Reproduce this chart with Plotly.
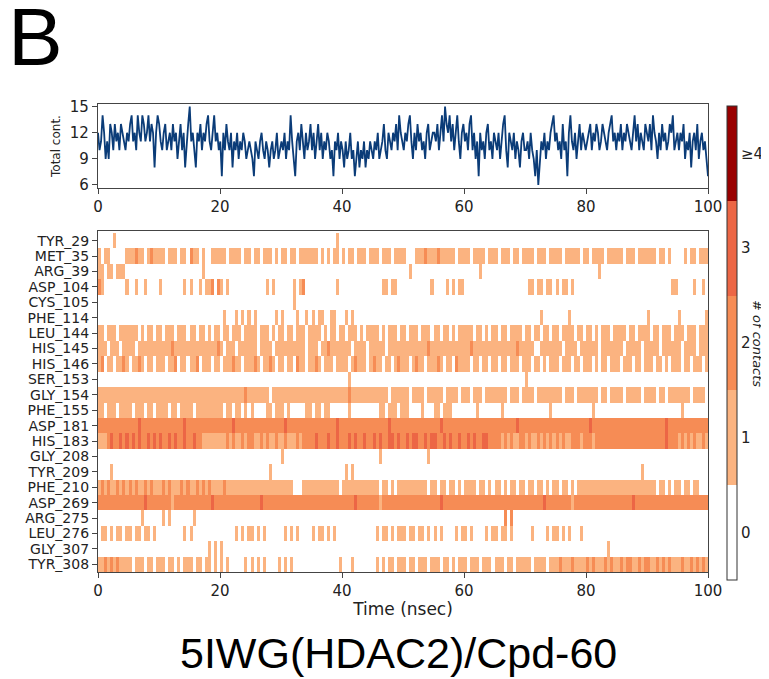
import numpy as np
import plotly.graph_objects as go

# ---- data ----
# total number of contacts, one value every 0.25 ns (0-100 ns)
total_contacts = [
    12, 10, 11, 14, 12, 9, 11, 9, 13, 12, 10, 13, 11, 12, 10, 13, 12, 11, 10, 12,
    11, 13, 14, 11, 12, 10, 14, 12, 11, 14, 13, 11, 12, 14, 11, 13, 12, 8, 12, 14,
    13, 11, 10, 12, 13, 10, 11, 12, 10, 13, 11, 12, 9, 11, 13, 10, 12, 8, 11, 13,
    15, 11, 12, 10, 8, 12, 11, 13, 10, 12, 11, 13, 14, 11, 10, 12, 14, 11, 12, 10,
    11, 7, 12, 10, 13, 11, 10, 12, 8, 11, 10, 12, 9, 11, 10, 12, 11, 9, 10, 11,
    10, 9, 7, 11, 10, 9, 11, 12, 10, 9, 11, 10, 8, 10, 11, 9, 10, 12, 9, 10,
    11, 10, 12, 9, 11, 10, 14, 11, 9, 7, 11, 12, 10, 13, 11, 9, 12, 10, 11, 13,
    10, 12, 9, 11, 13, 10, 12, 9, 11, 10, 12, 11, 9, 10, 7, 11, 10, 12, 9, 11,
    10, 8, 11, 9, 10, 12, 9, 10, 7, 9, 11, 8, 10, 9, 11, 8, 10, 9, 11, 10,
    9, 11, 10, 12, 9, 10, 11, 13, 10, 9, 12, 11, 10, 12, 11, 13, 10, 14, 12, 11,
    10, 12, 11, 13, 14, 11, 9, 12, 10, 13, 11, 12, 10, 11, 9, 12, 13, 10, 11, 12,
    12, 11, 13, 10, 12, 14, 11, 15, 13, 12, 14, 11, 13, 10, 12, 14, 11, 9, 12, 13,
    11, 12, 10, 13, 14, 10, 12, 9, 11, 7, 12, 10, 11, 9, 12, 13, 10, 11, 9, 12,
    11, 10, 12, 9, 11, 13, 14, 10, 8, 12, 11, 10, 12, 9, 11, 10, 8, 11, 12, 10,
    10, 11, 9, 12, 10, 9, 7, 10, 6, 9, 11, 10, 12, 9, 11, 10, 12, 13, 14, 11,
    12, 10, 11, 9, 13, 10, 11, 7, 12, 14, 11, 10, 12, 9, 11, 13, 10, 12, 11, 10,
    11, 12, 13, 10, 12, 11, 13, 12, 10, 11, 13, 12, 11, 10, 12, 13, 14, 11, 12, 10,
    12, 11, 13, 10, 12, 11, 13, 12, 11, 10, 12, 14, 11, 13, 10, 12, 11, 10, 13, 12,
    11, 13, 10, 14, 12, 11, 9, 12, 10, 13, 11, 12, 10, 11, 13, 12, 14, 10, 11, 12,
    10, 12, 11, 13, 9, 11, 10, 12, 8, 11, 12, 10, 13, 9, 11, 12, 10, 11, 9, 7,
]

residues = ["TYR_29", "MET_35", "ARG_39", "ASP_104", "CYS_105", "PHE_114",
            "LEU_144", "HIS_145", "HIS_146", "SER_153", "GLY_154", "PHE_155",
            "ASP_181", "HIS_183", "GLY_208", "TYR_209", "PHE_210", "ASP_269",
            "ARG_275", "LEU_276", "GLY_307", "TYR_308"]

# contacts per residue, one digit per 0.5 ns (groups of 5 ns), 4 means >=4
contact_rows = [
    "0000010000 0000000000 0000000000 0000000000 0000000000 0000000000 0000000000 0000000010 0000000000 0000000000 0000000000 0000000000 0000000000 0000000000 0000000000 0000000000 0000000000 0000000000 0000000000 0000000000",
    "1011000001 1121101211 1101110110 2110100111 1101111011 0110111010 1101101111 1101010110 1011011101 1101110111 1000111211 1211111011 1101111011 1011101101 1110111011 1101111101 1011110111 1101110111 1110110100 0010110111",
    "1101101110 0000000000 0000000000 0000100000 0000000000 0000000000 0000000000 0000000000 0000000000 0000000000 0010000000 0000000000 0000010000 0000000000 0000000000 0000000000 0000100000 0000000000 0000000000 0000000000",
    "2100000001 0010010000 1000000010 1001011202 1010000000 0000010100 0000101200 0000000010 0000000000 0001101100 0000000001 0000101011 0000000000 0000000000 0110110110 1011010000 0000000000 0000000000 0000000011 0000010010",
    "0000000000 0000000000 0000000000 0000000000 0000000000 0000000000 0000100000 0000000000 0000000000 0000000000 0000000000 0000000000 0000000000 0000000000 0000000000 0000000000 0000000000 0000000000 0000000000 0000000000",
    "0000000000 0000000000 0000000000 0000000000 0100010101 0100000010 1000010010 1011001100 0101000000 0000000000 0000000000 0000000000 0000000000 0000000000 0000010000 0000100000 0000000000 0000000000 1000000000 1000000001",
    "1101110111 1110101101 1011101110 1101101011 0110111011 1101110101 1011011101 1110101101 1011101011 1101011101 1011101110 1101101011 1110110101 1011011110 1101101101 1011110110 1101011101 1110110111 1011011101 1101110111",
    "1110111011 1101111111 1111211111 1111111112 1011101111 1101111011 1111111101 1101121111 1110111101 1111011111 1111111121 1111111111 1121111111 1111111211 1110011111 1101111011 1111011111 1101111101 1111011111 1011110111",
    "1201101121 0112101101 1101120110 1120111011 0111211011 1210112101 1011021101 1210111011 1101211101 2110110121 1101211011 1210110211 1101101101 1011011101 1101101011 1011101101 1101011011 1011101101 1101101011 1011011101",
    "0000000000 0000000000 0000000000 0000000000 0000000000 0000000000 0000000000 0000000000 0010000000 0000000000 0000000000 0000000000 0000000000 0000000000 1000000000 0000000000 0000000000 0000000000 0000000000 0000000000",
    "1111111111 1111111111 1111111111 1111111111 1111111121 1111110111 1111111111 1111111111 1121111111 1111101111 1101111011 1110111101 1101110111 1111011101 1110111111 1101110111 1111011011 1101111101 1110110111 1111011110",
    "1101110111 1011101101 1110110111 1011111111 1011011010 1000011011 1010000011 0110110000 0010000000 0011011101 1100001000 1101110000 0000100000 0010000000 0000000010 0000000000 0010000000 0000000000 0000000000 0100000000",
    "2222222222 2223222222 2222222232 2222222222 2222322222 2222222222 2322222222 2222222232 2222222222 2222232222 2222222222 2232222222 2222222222 2222222322 2222222222 2222222222 2322222222 2222222222 2222223222 2222222222",
    "1112322323 2323223232 3223232232 2322111111 1121211212 2112121121 1211121222 2322232232 2232322322 3232233232 2323322323 3223232232 2323223322 2212121122 1211212121 2121122212 2212222222 2222222222 2222223222 1212121121",
    "0000000000 0000000000 0000000000 0000000000 0000000000 0000000000 1000000000 0000000000 0000000000 0010000000 0000000010 0000000000 0000000000 0000000000 0000000000 0000000000 0000000000 0000000000 0000000000 0000000000",
    "0000100000 0000000000 0000000000 0000000000 0000000000 0000001000 0000000000 0000000000 0101000000 0000000000 0000000000 0000000000 0000000000 0000000000 0000000000 0000000000 0000000000 0000000010 0000000000 0000000000",
    "1212112121 2121121211 1212111212 1121212111 1211111111 1111111111 1111000111 1111111110 1111111111 1101101011 1111111101 1011011010 1111011010 1101011011 0110110101 1011010111 1111111111 1111111111 1110110101 1011011000",
    "2222222222 2222232222 2222122222 2222222322 2222222222 2223222222 2222222222 2222222222 2222322222 2212222222 2222222222 2232222222 2222222222 2222222222 2222223222 2222212222 2222222222 2222232222 2222222222 2222222222",
    "0000000000 0000100000 0101000000 0100000000 0000000000 0000000000 0000000000 0000000000 0000000000 0000000000 0000000000 0000000000 0000000000 0002020000 0000000000 0000000000 0000000000 0000000000 0000000000 0000000000",
    "0110101101 1011011010 0000000010 1000000000 0000010101 1010100000 0101010000 1011010100 0000000000 0101101011 1011011010 1010000101 1010000101 1011010000 0010000101 1010100010 0000000000 0000000000 0000000000 0000000000",
    "0000000000 0000000000 0000000000 0000001010 1000000000 0000000000 0000000000 0000000000 0000000000 0000000000 0000000000 0000000000 0000000000 0000000000 0000000000 0000000000 0000000100 0000000000 0000000000 0000000000",
    "1121212111 1011101101 1101101011 1011011010 1010000010 1010100001 0101000000 0000000001 0001000000 0101011011 1011011101 1101101011 1011101110 1110110111 1101111011 1211121111 2121112121 1212211212 2112121211 1211212121",
]

contact_ticks = [0, 1, 2, 3, 4]
contact_labels = ["0", "1", "2", "3", "≥4"]
colors = ["#ffffff", "#fbb380", "#f68c55", "#ec6645", "#990000"]

# ---- build figure ----
# the page has an 8px body margin: figure starts at (8, 8) in the window
PAD = 8
W, H = 769 - PAD, 679 - PAD
def px_x(p):
    return (p - PAD) / W
def px_y(p):
    return 1 - (p - PAD) / H

grid = [[int(c) for c in row.replace(" ", "")] for row in contact_rows]
times = np.linspace(0, 100, len(total_contacts))

scale = []
for i, c in enumerate(colors):
    scale.append([i / 5, c])
    scale.append([(i + 1) / 5, c])

fig = go.Figure()
fig.add_trace(go.Scatter(
    x=times, y=total_contacts, mode="lines",
    line=dict(color="#0b3c78", width=1.8),
    xaxis="x", yaxis="y", showlegend=False, hoverinfo="skip",
))
fig.add_trace(go.Heatmap(
    z=grid, x0=0.25, dx=0.5, y0=0, dy=1,
    xaxis="x2", yaxis="y2",
    colorscale=scale, zmin=-0.5, zmax=4.5,
    colorbar=dict(
        x=px_x(727), xanchor="left", xpad=0,
        y=px_y(106), yanchor="top", ypad=0,
        len=474 / H, lenmode="fraction", thickness=10,
        outlinewidth=1, outlinecolor="#333333",
        tickvals=contact_ticks, ticktext=contact_labels,
        ticks="",
        tickfont=dict(family="DejaVu Sans", size=15, color="#222222"),
    ),
    hoverinfo="skip",
))

axis_common = dict(
    showline=True, mirror=True, linecolor="#444444", linewidth=1.2,
    ticks="outside", ticklen=5, tickcolor="#444444",
    showgrid=False, zeroline=False, automargin=False,
)
tick_font = dict(family="DejaVu Sans", size=15, color="#222222")
x_dom = [px_x(98), px_x(708)]

fig.update_layout(
    width=W, height=H,
    margin=dict(l=0, r=0, t=0, b=0, autoexpand=False),
    paper_bgcolor="white", plot_bgcolor="white",
    xaxis=dict(domain=x_dom, range=[0, 100], tickvals=[0, 20, 40, 60, 80, 100],
               anchor="y", tickfont=tick_font, **axis_common),
    yaxis=dict(domain=[px_y(188), px_y(104)], range=[5.65, 15.3],
               tickvals=[6, 9, 12, 15], anchor="x", tickfont=tick_font,
               title=dict(text="Total cont.", font=dict(family="DejaVu Sans", size=12, color="#222222"),
                          standoff=6),
               **axis_common),
    xaxis2=dict(domain=x_dom, range=[0, 100], tickvals=[0, 20, 40, 60, 80, 100],
                anchor="y2", tickfont=tick_font,
                title=dict(text="Time (nsec)", font=dict(family="DejaVu Sans", size=17, color="#222222"),
                           standoff=4),
                **axis_common),
    yaxis2=dict(domain=[px_y(572), px_y(231)], range=[21.5, -0.63],
                tickvals=list(range(len(residues))), ticktext=residues,
                anchor="x2", tickfont=dict(family="DejaVu Sans", size=14, color="#222222"),
                **axis_common),
    annotations=[
        dict(text="B", x=px_x(6), y=px_y(-11), xref="paper", yref="paper",
             xanchor="left", yanchor="top", showarrow=False,
             font=dict(family="Liberation Sans", size=82, color="black")),
        dict(text="<i># of contacts</i>", x=px_x(758), y=px_y(343), xref="paper", yref="paper",
             xanchor="center", yanchor="middle", textangle=90, showarrow=False,
             font=dict(family="DejaVu Sans", size=13, color="#222222")),
        dict(text="5IWG(HDAC2)/Cpd-60", x=px_x(398), y=px_y(653), xref="paper", yref="paper",
             xanchor="center", yanchor="middle", showarrow=False,
             font=dict(family="Liberation Sans", size=43, color="black")),
    ],
)

fig.write_html("out.html")
